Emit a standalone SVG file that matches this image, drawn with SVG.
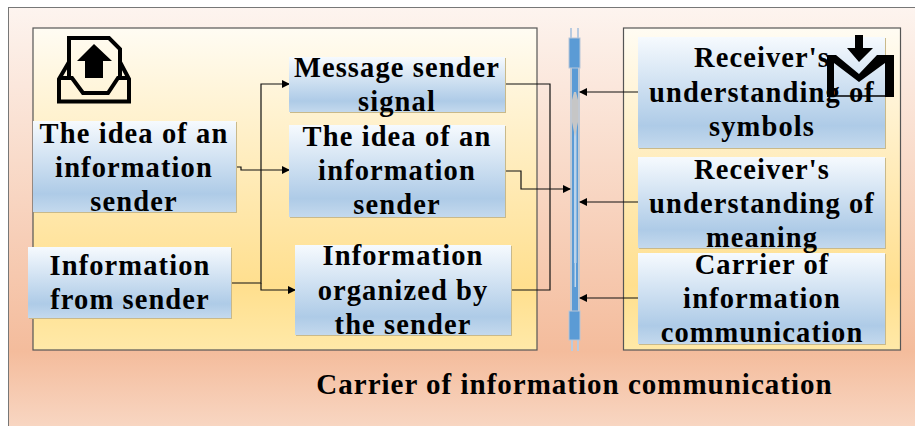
<svg xmlns="http://www.w3.org/2000/svg" width="915" height="426" viewBox="0 0 915 426">
<defs>
<linearGradient id="bg" x1="0" y1="0" x2="0" y2="1"><stop offset="0" stop-color="#fdf4ef"/><stop offset="0.82" stop-color="#f4bc9c"/><stop offset="1" stop-color="#f8d6c2"/></linearGradient>
<linearGradient id="panel" x1="0" y1="0" x2="0" y2="1"><stop offset="0" stop-color="#fffcf3"/><stop offset="0.4" stop-color="#ffedbf"/><stop offset="0.8" stop-color="#ffdf8e"/><stop offset="1" stop-color="#ffe9a8"/></linearGradient>
<linearGradient id="box" x1="0" y1="0" x2="0" y2="1"><stop offset="0" stop-color="#f6fafe"/><stop offset="0.8" stop-color="#aecbe7"/><stop offset="1" stop-color="#c4d9ed"/></linearGradient>
<marker id="ah" markerWidth="8" markerHeight="8" refX="7" refY="4" orient="auto" markerUnits="userSpaceOnUse"><path d="M0 0L8 4L0 8Z" fill="#000"/></marker>
</defs>
<style>
.p{fill:url(#panel);stroke:#555;stroke-width:1.2}
.b{fill:url(#box);filter:drop-shadow(1px 1px 0.5px #c9b98a)}
text{font-family:"Liberation Serif","Times New Roman",serif;font-weight:bold;font-size:28.500px;letter-spacing:1.1px;text-anchor:middle;fill:#000}
.c{fill:none;stroke:#111;stroke-width:1.2}
.ar{marker-end:url(#ah)}
.icon{fill:none;stroke:#000;stroke-width:4}
</style>
<rect x="8.500" y="7.500" width="907" height="419" fill="url(#bg)" stroke="#777" stroke-width="1"/>
<rect class="p" x="33" y="28" width="504" height="322"/>
<rect class="p" x="623.500" y="28" width="277" height="322"/>

<g id="tube">
<rect x="570" y="28" width="2" height="10" fill="#b9cbe0"/><rect x="577" y="28" width="2" height="10" fill="#b9cbe0"/>
<rect x="571" y="340" width="2" height="11" fill="#b9cbe0"/><rect x="577" y="340" width="2" height="11" fill="#b9cbe0"/>
<rect x="570" y="68" width="10" height="243" fill="#c3c9d2"/>
<rect x="572" y="68" width="6" height="243" fill="#5b9bd5"/>
<rect x="574" y="100" width="2.500" height="163" fill="#bcd3ea"/>
<rect x="574.500" y="263" width="1.500" height="24" fill="#c3d7ea"/>
<path d="M574 92L576 92L578 100V122L575 137L572 122V100Z" fill="#c6c6c6"/>
<rect x="569" y="38" width="11" height="30" fill="#5b9bd5" stroke="#b8c6d8" stroke-width="1"/>
<rect x="569" y="311" width="11" height="29" fill="#5b9bd5" stroke="#b8c6d8" stroke-width="1"/>
</g>

<g id="connectors">
<path class="c ar" d="M235 167H241V170H289"/>
<path class="c ar" d="M231 283H261V84H289"/>
<path class="c ar" d="M261 283V290H295"/>
<path class="c ar" d="M504 171H521V189H570"/>
<path class="c" d="M504 84H550V290H511"/>
<path class="c ar" d="M638 92H580"/>
<path class="c ar" d="M638 202H580"/>
<path class="c ar" d="M638 298H580"/>
</g>

<g id="n1"><rect class="b" x="33" y="121" width="203" height="91"/><text x="134" y="143">The idea of an</text><text x="134" y="177">information</text><text x="134" y="211">sender</text></g>
<g id="n2"><rect class="b" x="289" y="57" width="216" height="55"/><text x="397" y="77">Message sender</text><text x="397" y="111">signal</text></g>
<g id="n3"><rect class="b" x="289" y="125" width="216" height="92"/><text x="397" y="146">The idea of an</text><text x="397" y="180">information</text><text x="397" y="214">sender</text></g>
<g id="n4"><rect class="b" x="28" y="247" width="203" height="71"/><text x="130" y="275">Information</text><text x="130" y="309">from sender</text></g>
<g id="n5"><rect class="b" x="295" y="245" width="216" height="90"/><text x="403" y="265">Information</text><text x="403" y="300">organized by</text><text x="403" y="334">the sender</text></g>
<g id="n6"><rect class="b" x="638" y="37" width="247" height="111"/><text x="762" y="67">Receiver's</text><text x="762" y="102">understanding of</text><text x="762" y="136">symbols</text></g>
<g id="n7"><rect class="b" x="638" y="157" width="247" height="91"/><text x="762" y="179">Receiver's</text><text x="762" y="213">understanding of</text><text x="762" y="247">meaning</text></g>
<g id="n8"><rect class="b" x="638" y="253" width="247" height="91"/><text x="762" y="274">Carrier of</text><text x="762" y="308">information</text><text x="762" y="342">communication</text></g>

<g id="upload-icon">
<path class="icon" d="M69 78V38H109L120 49V78"/>
<path class="icon" d="M69 62L59 79V101.500H129V79L120 62"/>
<path class="icon" d="M59 78H72L83 93H108L118 78H129"/>
<path d="M94 44L112 61H103V78H85V61H77Z" fill="#000"/>
</g>
<g id="download-icon">
<path d="M855 35H863V48H873L859 62L847 48H855Z" fill="#000"/>
<path d="M827 97V55H836L859 74L877 55H894V97H885V63L859 82L834 63V97Z" fill="#000"/>
<path d="M833 96H886" stroke="#000" stroke-width="1.500"/>
</g>
<text x="574.500" y="394" style="font-size:29px;letter-spacing:1px">Carrier of information communication</text>
</svg>
